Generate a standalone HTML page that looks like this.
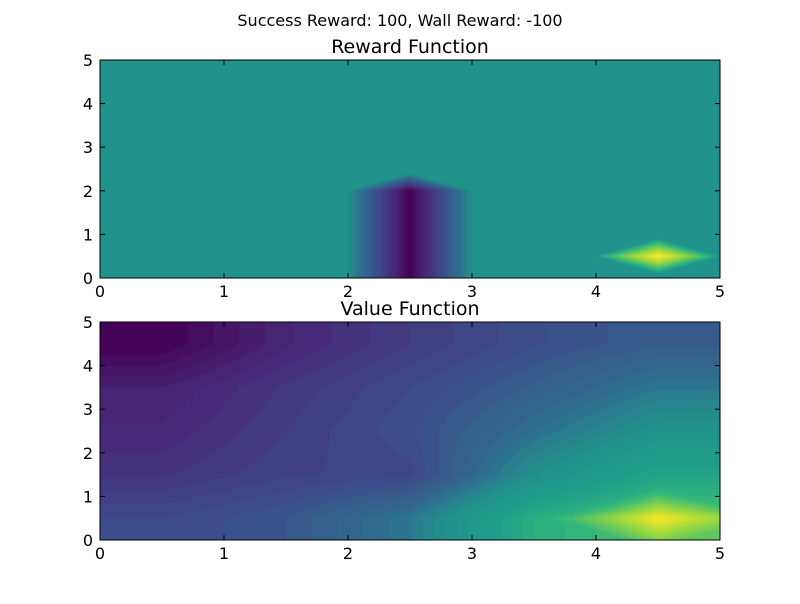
<!DOCTYPE html>
<html><head><meta charset="utf-8">
<style>
body{margin:0;background:#fff;font-family:"DejaVu Sans","Liberation Sans",sans-serif;}
#wrap{position:relative;width:800px;height:600px;background:#fff;}
svg text{font-family:"DejaVu Sans","Liberation Sans",sans-serif;}
</style></head>
<body>
<div id="wrap">
<svg id="svg" width="800" height="600" xmlns="http://www.w3.org/2000/svg"></svg>
</div>
<script>
// Grid values, rows = y index 0..4 (bottom to top), cols = x index 0..4
const xCenters = [0.5, 1.5, 2.5, 3.5, 4.5];
const yCenters = [0.5, 1.5, 2.5, 3.5, 4.5];
const rewardRow0 = [0, 0, -100, 0, 100];
const rewardRow1 = [0, 0, -100, 0, 0];
const rewardRow2 = [0, 0, 0, 0, 0];
const rewardRow3 = [0, 0, 0, 0, 0];
const rewardRow4 = [0, 0, 0, 0, 0];
const valueRow0 = [0.25, 0.30, 0.42, 0.70, 0.80];
const valueRow1 = [0.17, 0.22, 0.24, 0.50, 0.65];
const valueRow2 = [0.13, 0.20, 0.27, 0.40, 0.52];
const valueRow3 = [0.10, 0.18, 0.25, 0.33, 0.42];
const valueRow4 = [0.00, 0.12, 0.20, 0.27, 0.32];
const valueGoalPeak = [0.20];
const xTicks = [0, 1, 2, 3, 4, 5];
const yTicks = [0, 1, 2, 3, 4, 5];

const viridis = [[0,68,1,84],[0.125,72,40,120],[0.25,62,73,137],[0.375,49,104,142],[0.5,33,145,140],[0.625,31,158,137],[0.75,53,183,121],[0.875,144,215,67],[1,253,231,37]];
function cmap(t){t=Math.max(0,Math.min(1,t));for(let i=1;i<viridis.length;i++){if(t<=viridis[i][0]){const a=viridis[i-1],b=viridis[i];const f=(t-a[0])/(b[0]-a[0]);return [0,1,2].map(k=>Math.round(a[k+1]+(b[k+1]-a[k+1])*f));}}return [253,231,37];}

const NS="http://www.w3.org/2000/svg";
const svg=document.getElementById('svg');
function mk(tag,attrs,parent){const e=document.createElementNS(NS,tag);for(const k in attrs)e.setAttribute(k,attrs[k]);(parent||svg).appendChild(e);return e;}
function bilinear(grid,x,y){
  const cx=Math.max(0.5,Math.min(4.5,x)),cy=Math.max(0.5,Math.min(4.5,y));
  let i=Math.min(3,Math.floor(cx-0.5)),j=Math.min(3,Math.floor(cy-0.5));
  const fx=cx-xCenters[i],fy=cy-yCenters[j];
  return grid[j][i]*(1-fx)*(1-fy)+grid[j][i+1]*fx*(1-fy)+grid[j+1][i]*(1-fx)*fy+grid[j+1][i+1]*fx*fy;
}
function rewardField(grid,x,y){
  let s=0;
  for(let i=0;i<5;i++){
    const dx=Math.abs(x-xCenters[i]);
    for(let j=0;j<5;j++){
      const v=grid[j][i]; if(!v) continue;
      if(j>0&&grid[j-1][i]===v) continue;
      let k=j; while(k+1<5&&grid[k+1][i]===v) k++;
      let w;
      if(k>j){ const dy=Math.max(0,y-(yCenters[k]+0.5)); w=Math.max(0,1-dx/0.5-dy/0.4); }
      else { const dy=Math.abs(y-yCenters[j]); w=Math.sqrt(Math.max(0,1-dx/0.52-dy/0.4)); }
      s+=v*w;
    }
  }
  return s;
}
function panel(fn,vmin,vmax,levels,L,T,W,H,title,name){
  const g=mk('g',{});
  
  
  const sx=v=>L+v/5*W, sy=v=>T+H-v/5*H;
  const cv=document.createElement('canvas');cv.width=W;cv.height=H;
  const ctx=cv.getContext('2d');const img=ctx.createImageData(W,H);
  for(let py=0;py<H;py++)for(let px=0;px<W;px++){
    const x=(px+0.5)/W*5,y=(H-py-0.5)/H*5;
    let t=(fn(x,y)-vmin)/(vmax-vmin);
    t=Math.floor(t*levels)/levels+0.5/levels;
    const c=cmap(t);const o=(py*W+px)*4;img.data[o]=c[0];img.data[o+1]=c[1];img.data[o+2]=c[2];img.data[o+3]=255;
  }
  ctx.putImageData(img,0,0);
  const im=mk('image',{x:L,y:T,width:W,height:H,href:cv.toDataURL()},g);
  
  
  const fr=mk('rect',{x:L,y:T,width:W,height:H,fill:'none',stroke:'#000','stroke-width':1},g);
  
  
  xTicks.forEach(v=>{mk('line',{x1:sx(v),x2:sx(v),y1:T+H,y2:T+H-5,stroke:'#000'},g);mk('line',{x1:sx(v),x2:sx(v),y1:T,y2:T+5,stroke:'#000'},g);
    const t=mk('text',{x:sx(v),y:T+H+19,'text-anchor':'middle','font-size':16},g);t.textContent=v;
    
    });
  yTicks.forEach(v=>{mk('line',{x1:L,x2:L+5,y1:sy(v),y2:sy(v),stroke:'#000'},g);mk('line',{x1:L+W,x2:L+W-5,y1:sy(v),y2:sy(v),stroke:'#000'},g);
    const t=mk('text',{x:L-7,y:sy(v)+6,'text-anchor':'end','font-size':16},g);t.textContent=v;
    
    });
  const tt=mk('text',{x:L+W/2,y:T-7,'text-anchor':'middle','font-size':19},g);tt.textContent=title;
  
  
}
const sup=mk('text',{x:400,y:26,'text-anchor':'middle','font-size':16});sup.textContent='Success Reward: 100, Wall Reward: -100';


const rGrid=[rewardRow0,rewardRow1,rewardRow2,rewardRow3,rewardRow4];
const vGrid=[valueRow0,valueRow1,valueRow2,valueRow3,valueRow4];
panel((x,y)=>rewardField(rGrid,x,y),-100,100,40,100,60,620,218,'Reward Function','reward-panel');
panel((x,y)=>bilinear(vGrid,x,y)+valueGoalPeak[0]*Math.max(0,1-Math.abs(x-4.5)/0.9-Math.abs(y-0.5)/0.7),0,1,40,100,322,620,218,'Value Function','value-panel');
</script>
</body></html>
